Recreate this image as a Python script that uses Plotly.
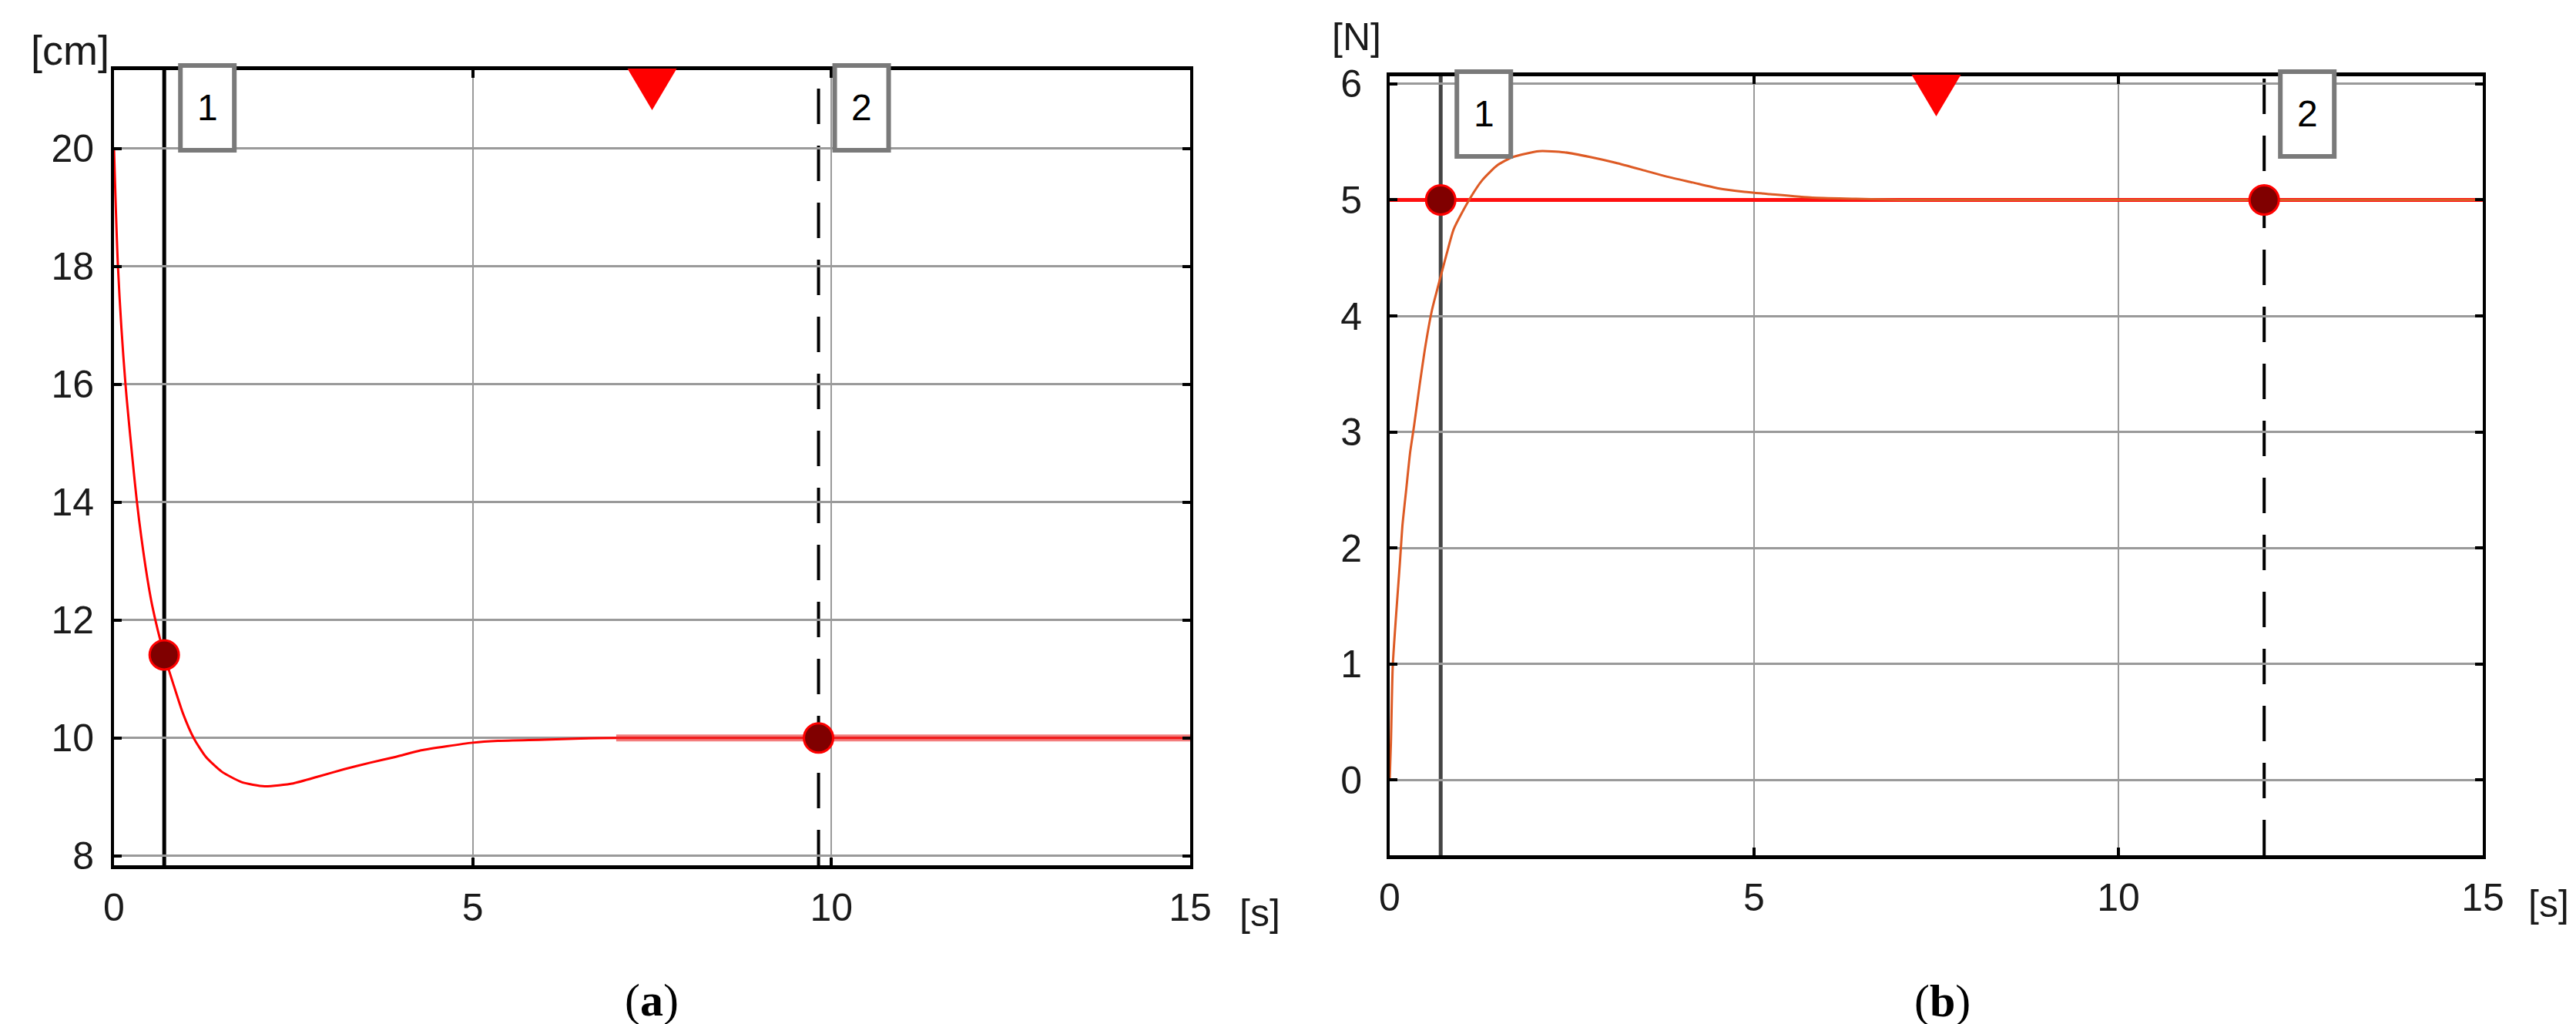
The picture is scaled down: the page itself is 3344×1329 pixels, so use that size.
import plotly.graph_objects as go

# ---------------- data ----------------
# panel (a): position [cm] vs time [s]
t_a = [0, 0.055, 0.16, 0.32, 0.44, 0.535, 0.70, 0.82, 0.96, 1.11, 1.28, 1.50,
       1.78, 2.10, 2.50, 2.86, 3.21, 3.57, 3.93, 4.28, 4.64, 5.0, 5.35, 6.0,
       6.5, 7.0, 8.0, 9.0, 10.0, 11.0, 12.0, 13.0, 14.0, 15.0]
pos_a = [20.0, 18.0, 16.0, 14.0, 12.9, 12.23, 11.41, 10.94, 10.42, 10.0, 9.68, 9.43,
         9.25, 9.18, 9.23, 9.35, 9.47, 9.58, 9.68, 9.79, 9.86, 9.92, 9.95, 9.97,
         9.99, 10.0, 10.0, 10.0, 10.0, 10.0, 10.0, 10.0, 10.0, 10.0]
cursor_t_a = [0.70, 9.82]
cursor_v_a = [11.41, 10.0]

# panel (b): force [N] vs time [s]
t_b = [0, 0.017, 0.042, 0.088, 0.14, 0.176, 0.228, 0.28, 0.334, 0.41, 0.49, 0.58,
       0.67, 0.78, 0.88, 1.09, 1.27, 1.48, 1.69, 2.05, 2.40, 2.75, 3.10, 3.46,
       3.81, 4.16, 4.51, 4.87, 5.22, 5.8, 6.4, 7.0, 8.0, 9.0, 10.0, 11.0, 12.0,
       13.0, 14.0, 15.0]
force_b = [0.0, 0.32, 0.98, 1.42, 1.87, 2.20, 2.51, 2.82, 3.05, 3.40, 3.74, 4.05,
           4.27, 4.53, 4.75, 5.0, 5.17, 5.30, 5.37, 5.42, 5.41, 5.37, 5.32, 5.26,
           5.20, 5.15, 5.10, 5.07, 5.05, 5.02, 5.01, 5.0, 5.0, 5.0, 5.0, 5.0, 5.0,
           5.0, 5.0, 5.0]
setpoint_t_b = [0, 15]
setpoint_b = [5.0, 5.0]
cursor_t_b = [0.70, 12.0]
cursor_v_b = [5.0, 5.0]

cursor_labels = ["1", "2"]
mid_marker_t = 7.5

x_ticks = [0, 5, 10, 15]
y_ticks_a = [8, 10, 12, 14, 16, 18, 20]
y_ticks_b = [0, 1, 2, 3, 4, 5, 6]

# ---------------- layout geometry ----------------
W, H = 3344, 1329
PA = dict(L=140, R=1537, T=83, B=1115, xr=(0, 15), yr=(7.84, 21.33))
PB = dict(L=1796, R=3215, T=91, B=1102, xr=(0, 15), yr=(-0.65, 6.066))

def px_x(p, t):
    return p["L"] + (t - p["xr"][0]) / (p["xr"][1] - p["xr"][0]) * (p["R"] - p["L"])

def paper_x(px):
    return px / W

def paper_y(py):
    return 1 - py / H

FAM = "Liberation Sans, Arial, sans-serif"
TICKFONT = dict(family=FAM, size=50, color="#1a1a1a")
CAPFONT = dict(family="Liberation Serif, Times New Roman, serif", size=60, color="black")

fig = go.Figure()

# panel (a) curve
fig.add_trace(go.Scatter(x=t_a, y=pos_a, mode="lines", xaxis="x", yaxis="y",
                         line=dict(color="#ff0000", width=3, shape="spline", smoothing=0.6),
                         showlegend=False, hoverinfo="skip"))
settled_t = [t for t in t_a if t >= 7.0]
settled_v = [v for t, v in zip(t_a, pos_a) if t >= 7.0]
fig.add_trace(go.Scatter(x=settled_t, y=settled_v, mode="lines", xaxis="x", yaxis="y",
                         line=dict(color="rgba(235,40,40,0.6)", width=9),
                         showlegend=False, hoverinfo="skip"))
fig.add_trace(go.Scatter(x=cursor_t_a, y=cursor_v_a, mode="markers", xaxis="x", yaxis="y",
                         marker=dict(size=38, color="#800000", line=dict(color="#ff0000", width=3)),
                         cliponaxis=False, showlegend=False, hoverinfo="skip"))

# panel (b)
fig.add_trace(go.Scatter(x=setpoint_t_b, y=setpoint_b, mode="lines", xaxis="x2", yaxis="y2",
                         line=dict(color="#ff1010", width=5),
                         showlegend=False, hoverinfo="skip"))
fig.add_trace(go.Scatter(x=t_b, y=force_b, mode="lines", xaxis="x2", yaxis="y2",
                         line=dict(color="#dd5a24", width=3, shape="spline", smoothing=0.6),
                         showlegend=False, hoverinfo="skip"))
fig.add_trace(go.Scatter(x=cursor_t_b, y=cursor_v_b, mode="markers", xaxis="x2", yaxis="y2",
                         marker=dict(size=38, color="#800000", line=dict(color="#ff0000", width=3)),
                         cliponaxis=False, showlegend=False, hoverinfo="skip"))

def axis_common():
    return dict(showline=True, linecolor="black", mirror="ticks",
                ticks="inside", tickcolor="black", tickwidth=4, ticklen=10,
                showgrid=True, gridcolor="#9a9a9a", zeroline=False,
                tickfont=TICKFONT, fixedrange=True, automargin=False)

fig.update_layout(
    template="none",
    width=W, height=H, margin=dict(l=0, r=0, t=0, b=0, pad=0), autosize=False,
    paper_bgcolor="white", plot_bgcolor="white",
    xaxis=dict(domain=[paper_x(PA["L"]), paper_x(PA["R"])], range=list(PA["xr"]),
               tickvals=x_ticks, linewidth=5, gridwidth=2, anchor="y",
               ticklabelstandoff=7, **axis_common()),
    yaxis=dict(domain=[paper_y(PA["B"]), paper_y(PA["T"])], range=list(PA["yr"]),
               tickvals=y_ticks_a, linewidth=4, gridwidth=3, anchor="x",
               ticklabelstandoff=12, **axis_common()),
    xaxis2=dict(domain=[paper_x(PB["L"]), paper_x(PB["R"])], range=list(PB["xr"]),
                tickvals=x_ticks, linewidth=5, gridwidth=2, anchor="y2",
                ticklabelstandoff=7, **axis_common()),
    yaxis2=dict(domain=[paper_y(PB["B"]), paper_y(PB["T"])], range=list(PB["yr"]),
                tickvals=y_ticks_b, linewidth=4, gridwidth=3, anchor="x2",
                ticklabelstandoff=22, **axis_common()),
)

shapes = []
annotations = []

def add_cursors(p, cursor_t, first_color):
    for i, t in enumerate(cursor_t):
        lx = paper_x(px_x(p, t))
        shapes.append(dict(type="line", xref="paper", yref="paper",
                           x0=lx, x1=lx, y0=paper_y(p["B"]), y1=paper_y(p["T"]),
                           layer="below",
                           line=dict(color=first_color if i == 0 else "black",
                                     width=5 if i == 0 else 4,
                                     dash="solid" if i == 0 else "46px,28px")))
        # label box to the right of the cursor line
        bx0 = px_x(p, t) + 21
        bx1 = bx0 + 70
        by0 = p["T"] - 6
        by1 = by0 + 110
        shapes.append(dict(type="rect", xref="paper", yref="paper",
                           x0=paper_x(bx0), x1=paper_x(bx1),
                           y0=paper_y(by1), y1=paper_y(by0), layer="above",
                           fillcolor="white", line=dict(color="#7a7a7a", width=6)))
        annotations.append(dict(xref="paper", yref="paper",
                                x=paper_x((bx0 + bx1) / 2), y=paper_y((by0 + by1) / 2),
                                text=cursor_labels[i], showarrow=False,
                                xanchor="center", yanchor="middle",
                                font=dict(family=FAM, size=48, color="black")))
    # red triangle at the middle of the time range
    cx = px_x(p, mid_marker_t)
    top = p["T"] - 2
    path = "M {:.5f},{:.5f} L {:.5f},{:.5f} L {:.5f},{:.5f} Z".format(
        paper_x(cx - 32), paper_y(top), paper_x(cx + 32), paper_y(top),
        paper_x(cx), paper_y(top + 54))
    shapes.append(dict(type="path", xref="paper", yref="paper", path=path,
                       fillcolor="#ff0000", line=dict(width=0), layer="above"))

add_cursors(PA, cursor_t_a, "black")
add_cursors(PB, cursor_t_b, "#444444")

# axis unit labels
annotations += [
    dict(xref="paper", yref="paper", x=paper_x(136), y=paper_y(57), text="[cm]",
         showarrow=False, xanchor="right", yanchor="middle", font=dict(family=FAM, size=54, color="#1a1a1a")),
    dict(xref="paper", yref="paper", x=paper_x(1753), y=paper_y(40), text="[N]",
         showarrow=False, xanchor="center", yanchor="middle", font=TICKFONT),
    dict(xref="paper", yref="paper", x=paper_x(1627), y=paper_y(1177), text="[s]",
         showarrow=False, xanchor="center", yanchor="middle", font=TICKFONT),
    dict(xref="paper", yref="paper", x=paper_x(3300), y=paper_y(1165), text="[s]",
         showarrow=False, xanchor="center", yanchor="middle", font=TICKFONT),
    dict(xref="paper", yref="paper", x=paper_x(838), y=paper_y(1290), text="(<b>a</b>)",
         showarrow=False, xanchor="center", yanchor="middle", font=CAPFONT),
    dict(xref="paper", yref="paper", x=paper_x(2513), y=paper_y(1291), text="(<b>b</b>)",
         showarrow=False, xanchor="center", yanchor="middle", font=CAPFONT),
]

fig.update_layout(shapes=shapes, annotations=annotations)
fig.write_html("out.html")
